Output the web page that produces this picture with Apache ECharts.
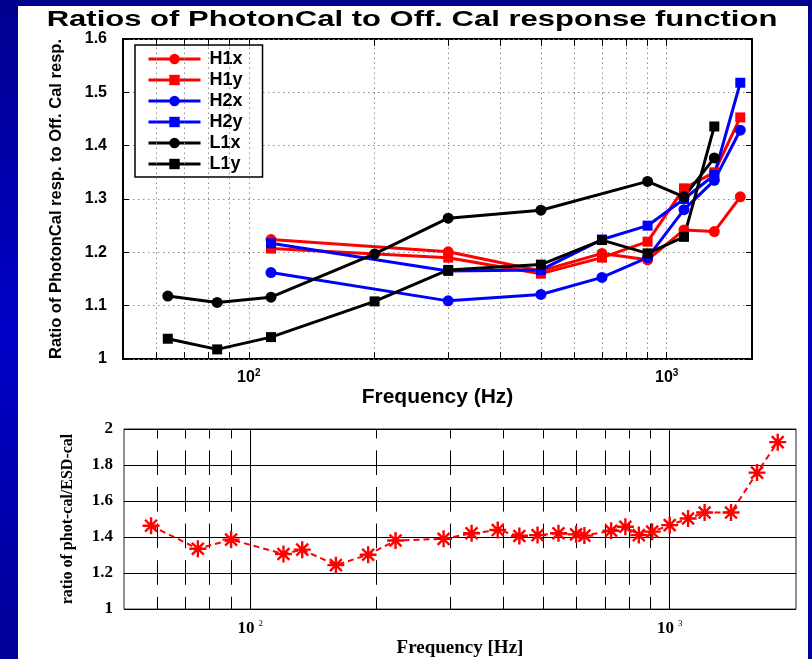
<!DOCTYPE html>
<html><head><meta charset="utf-8">
<script src="https://cdn.jsdelivr.net/npm/echarts@6/dist/echarts.min.js"></script>
<style>
html,body{margin:0;padding:0;width:812px;height:659px;overflow:hidden;background:linear-gradient(#00008e,#0000c8 50%,#000098);}
#panel{position:absolute;left:18px;top:6px;width:790px;height:653px;background:#fff;}
#chart{position:absolute;left:0;top:0;width:812px;height:659px;}
</style></head>
<body><div id="panel"></div><div id="chart"></div>
<script>
// ---------- Top chart data ----------
const titleText = 'Ratios of PhotonCal to Off. Cal response function';
const topYName = 'Ratio of PhotonCal resp. to Off. Cal resp.';
const topXName = 'Frequency (Hz)';
const seriesNames = ['H1x', 'H1y', 'H2x', 'H2y', 'L1x', 'L1y'];
const h1xFreq = [113, 300, 500, 700, 900, 1100, 1300, 1500];
const h1xVal  = [1.224, 1.201, 1.165, 1.198, 1.186, 1.242, 1.239, 1.304];
const h1yFreq = [113, 300, 500, 700, 900, 1100, 1300, 1500];
const h1yVal  = [1.207, 1.190, 1.160, 1.190, 1.220, 1.320, 1.350, 1.453];
const h2xFreq = [113, 300, 500, 700, 900, 1100, 1300, 1500];
const h2xVal  = [1.162, 1.109, 1.121, 1.153, 1.190, 1.280, 1.335, 1.429];
const h2yFreq = [113, 300, 500, 700, 900, 1100, 1300, 1500];
const h2yVal  = [1.217, 1.165, 1.167, 1.224, 1.250, 1.300, 1.345, 1.518];
const l1xFreq = [64, 84, 113, 200, 300, 500, 900, 1100, 1300];
const l1xVal  = [1.118, 1.106, 1.116, 1.197, 1.264, 1.279, 1.333, 1.304, 1.377];
const l1yFreq = [64, 84, 113, 200, 300, 500, 700, 900, 1100, 1300];
const l1yVal  = [1.038, 1.018, 1.041, 1.108, 1.167, 1.177, 1.223, 1.198, 1.229, 1.436];
const topGridFreqs = [60, 70, 80, 90, 100, 200, 300, 400, 500, 600, 700, 800, 900, 1000];

// ---------- Bottom chart data ----------
const botYName = 'ratio of phot-cal/ESD-cal';
const botXName = 'Frequency [Hz]';
const esdFreq = [58, 75, 90, 120, 133, 160, 191, 222, 289, 337, 389, 438, 484, 543, 598, 626, 725, 784, 844, 908, 1000, 1106, 1211, 1400, 1615, 1809];
const esdVal  = [1.463, 1.335, 1.386, 1.306, 1.330, 1.244, 1.302, 1.381, 1.390, 1.421, 1.439, 1.406, 1.411, 1.421, 1.415, 1.408, 1.435, 1.457, 1.411, 1.430, 1.466, 1.503, 1.536, 1.536, 1.758, 1.927];
const botMinorFreqs = [60, 70, 80, 90, 200, 300, 400, 500, 600, 700, 800, 900];
const botDecadeFreqs = [100, 1000];

const zip = (a, b) => a.map((v, i) => [v, b[i]]);
const SANS = '"Liberation Sans", Arial, sans-serif';
const SERIF = '"Liberation Serif", "Times New Roman", serif';

const topData = [
  {name: 'H1x', data: zip(h1xFreq, h1xVal), color: '#ff0000', sym: 'circle'},
  {name: 'H1y', data: zip(h1yFreq, h1yVal), color: '#ff0000', sym: 'rect'},
  {name: 'H2x', data: zip(h2xFreq, h2xVal), color: '#0000ff', sym: 'circle'},
  {name: 'H2y', data: zip(h2yFreq, h2yVal), color: '#0000ff', sym: 'rect'},
  {name: 'L1x', data: zip(l1xFreq, l1xVal), color: '#000000', sym: 'circle'},
  {name: 'L1y', data: zip(l1yFreq, l1yVal), color: '#000000', sym: 'rect'}
];

const decadeLabel = v => {
  const e = Math.round(Math.log10(v));
  if (Math.abs(Math.log10(v) - e) < 1e-6 && (e === 2 || e === 3)) return '{b|10}{s|' + e + '}';
  return '';
};

const chart = echarts.init(document.getElementById('chart'), null, {renderer: 'canvas'});

const topSeries = topData.map(d => ({
  name: d.name, type: 'line', xAxisIndex: 0, yAxisIndex: 0,
  data: d.data, symbol: d.sym, symbolSize: d.sym === 'rect' ? 10 : 11,
  lineStyle: {color: d.color, width: 3},
  itemStyle: {color: d.color, borderColor: '#ffffff', borderWidth: 0},
  z: 5, animation: false
}));

const dotted = {color: '#8c8c8c', width: 1, type: [1.5, 3.5]};
const topVLines = topGridFreqs.map(f => [{coord: [f, 1]}, {coord: [f, 1.6]}]);
const topTicks = [].concat(
  topGridFreqs.map(f => [{coord: [f, 1]}, {coord: [f, 1.013]}]),
  topGridFreqs.map(f => [{coord: [f, 1.6]}, {coord: [f, 1.587]}])
);

const asterisk = 'path://M10,0 L10,20 M0,10 L20,10 M3,3 L17,17 M17,3 L3,17';

const option = {
  animation: false,
  backgroundColor: 'transparent',
  graphic: [{
    type: 'text', x: 412, y: 20, scaleX: 1.41,
    style: {text: titleText, fill: '#000', font: 'bold 22px ' + SANS,
            textAlign: 'center', textVerticalAlign: 'middle', align: 'center', verticalAlign: 'middle'}
  }],
  legend: {
    data: seriesNames, orient: 'vertical', left: 135, top: 45,
    backgroundColor: '#fff', borderColor: '#000', borderWidth: 1.5,
    padding: [5, 20, 4, 12], itemWidth: 52, itemHeight: 13, itemGap: 3,
    lineStyle: {width: 3},
    textStyle: {color: '#000', fontFamily: SANS, fontWeight: 'bold', fontSize: 18, lineHeight: 15, padding: [0, 0, 0, 4]},
    selectedMode: false
  },
  grid: [
    {left: 123, top: 39, width: 629, height: 320, show: true, borderColor: '#000', borderWidth: 2, backgroundColor: 'transparent'},
    {left: 124, top: 429, width: 672, height: 183, show: true, borderColor: '#222', borderWidth: 1, backgroundColor: 'transparent'}
  ],
  xAxis: [
    {gridIndex: 0, type: 'log', logBase: 10, min: 50, max: 1600,
     name: topXName, nameLocation: 'middle', nameGap: 26,
     nameTextStyle: {color: '#000', fontFamily: SANS, fontWeight: 'bold', fontSize: 21},
     axisLine: {show: false}, axisTick: {show: false}, splitLine: {show: false},
     axisLabel: {formatter: decadeLabel, margin: 9, showMinLabel: false, showMaxLabel: false,
       rich: {b: {fontFamily: SANS, fontWeight: 'bold', fontSize: 16, color: '#000', lineHeight: 18, verticalAlign: 'bottom'},
              s: {fontFamily: SANS, fontWeight: 'bold', fontSize: 10, color: '#000', lineHeight: 18, verticalAlign: 'top', padding: [0, 0, 8, 0]}}}},
    {gridIndex: 1, type: 'log', logBase: 10, min: 50, max: 2000,
     name: botXName, nameLocation: 'middle', nameGap: 27,
     nameTextStyle: {color: '#000', fontFamily: SERIF, fontWeight: 'bold', fontSize: 19},
     axisLine: {show: false}, axisTick: {show: false}, splitLine: {show: false},
     axisLabel: {formatter: decadeLabel, margin: 10, showMinLabel: false, showMaxLabel: false,
       rich: {b: {fontFamily: SERIF, fontWeight: 'bold', fontSize: 17, color: '#000', lineHeight: 18, verticalAlign: 'bottom'},
              s: {fontFamily: SERIF, fontSize: 9, color: '#000', lineHeight: 18, verticalAlign: 'top', padding: [0, 0, 10, 4]}}}}
  ],
  yAxis: [
    {gridIndex: 0, type: 'value', min: 1, max: 1.6, interval: 0.1,
     name: topYName, nameLocation: 'middle', nameGap: 58, nameRotate: 90,
     nameTextStyle: {color: '#000', fontFamily: SANS, fontWeight: 'bold', fontSize: 16.5},
     axisLine: {show: false}, axisTick: {show: true, inside: true, length: 6, lineStyle: {color: '#000', width: 1}},
     splitLine: {show: true, lineStyle: dotted},
     axisLabel: {color: '#000', fontFamily: SANS, fontWeight: 'bold', fontSize: 16, margin: 16,
                 formatter: v => String(+v.toFixed(1))}},
    {gridIndex: 0, type: 'value', min: 1, max: 1.6, interval: 0.1, position: 'right',
     axisLine: {show: false}, axisTick: {show: true, inside: true, length: 6, lineStyle: {color: '#000', width: 1}},
     splitLine: {show: false}, axisLabel: {show: false}},
    {gridIndex: 1, type: 'value', min: 1, max: 2, interval: 0.2,
     name: botYName, nameLocation: 'middle', nameGap: 48, nameRotate: 90,
     nameTextStyle: {color: '#000', fontFamily: SERIF, fontWeight: 'bold', fontSize: 16},
     axisLine: {show: false}, axisTick: {show: false},
     splitLine: {show: true, lineStyle: {color: '#000', width: 1, type: 'solid'}},
     axisLabel: {color: '#000', fontFamily: SERIF, fontWeight: 'bold', fontSize: 17, margin: 11,
                 formatter: v => String(+v.toFixed(1))}}
  ],
  series: [
    {name: 'topGrid', type: 'line', xAxisIndex: 0, yAxisIndex: 0, data: [], silent: true, z: 1,
     markLine: {silent: true, symbol: ['none', 'none'], label: {show: false}, animation: false,
                lineStyle: dotted, emphasis: {disabled: true}, data: topVLines}},
    {name: 'topTicks', type: 'line', xAxisIndex: 0, yAxisIndex: 0, data: [], silent: true, z: 2,
     markLine: {silent: true, symbol: ['none', 'none'], label: {show: false}, animation: false,
                lineStyle: {color: '#000', width: 1, type: 'solid'}, emphasis: {disabled: true}, data: topTicks}},
    ...topSeries,
    {name: 'botMinor', type: 'line', xAxisIndex: 1, yAxisIndex: 2, data: [], silent: true, z: 1,
     markLine: {silent: true, symbol: ['none', 'none'], label: {show: false}, animation: false,
                lineStyle: {color: '#000', width: 1, type: [24.6, 12], dashOffset: 12.3}, emphasis: {disabled: true},
                data: botMinorFreqs.map(f => [{coord: [f, 1]}, {coord: [f, 2]}])}},
    {name: 'botMajor', type: 'line', xAxisIndex: 1, yAxisIndex: 2, data: [], silent: true, z: 1,
     markLine: {silent: true, symbol: ['none', 'none'], label: {show: false}, animation: false,
                lineStyle: {color: '#000', width: 1, type: 'solid'}, emphasis: {disabled: true},
                data: botDecadeFreqs.map(f => [{coord: [f, 1]}, {coord: [f, 2]}])}},
    {name: 'phot-cal/ESD-cal', type: 'line', xAxisIndex: 1, yAxisIndex: 2,
     data: zip(esdFreq, esdVal), symbol: asterisk, symbolSize: 17, symbolKeepAspect: true,
     lineStyle: {color: '#ff0000', width: 2, type: [6, 4]},
     itemStyle: {color: '#ff0000', borderColor: '#ff0000', borderWidth: 2.4}, z: 5}
  ]
};
chart.setOption(option);
</script>
</body></html>
